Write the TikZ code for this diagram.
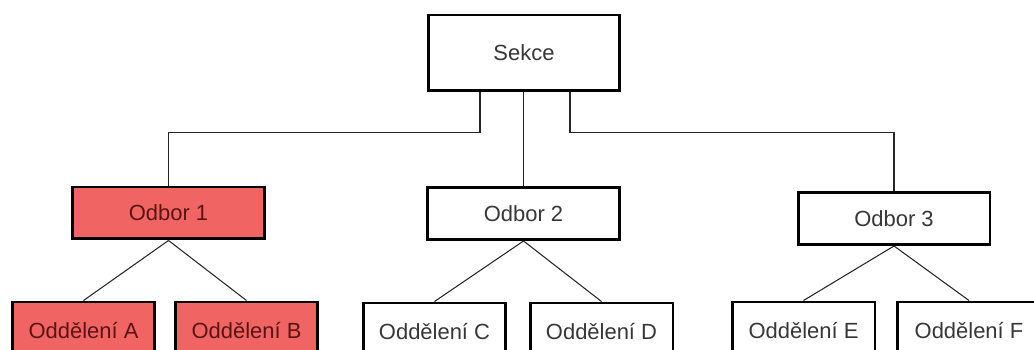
\documentclass[tikz,border=0pt]{standalone}
\usepackage{fontspec}
\setmainfont{Liberation Sans}
\usepackage{tikz}
\usetikzlibrary{positioning,calc}

\definecolor{odborred}{RGB}{240,100,100}
\definecolor{darkred}{RGB}{90,20,20}
\definecolor{txtgray}{RGB}{55,55,55}

\begin{document}
\begin{tikzpicture}[x=0.02cm,y=-0.02cm,
  unit/.style={draw=black, line width=1.7pt, fill=white, text=txtgray,
               minimum width=3.84cm, minimum height=1.04cm, align=center,
               font=\fontsize{12.5}{14}\selectfont},
  redunit/.style={unit, fill=odborred, text=darkred},
  dept/.style={unit, minimum width=2.86cm, minimum height=1.2cm},
  reddept/.style={dept, fill=odborred, text=darkred},
  link/.style={draw=black!85, line width=0.6pt}
]
\useasboundingbox (0,0) rectangle (1034,350);
\clip (0,0) rectangle (1034,350);

% top level
\node[unit, minimum height=1.52cm] (sekce) at (524,53) {Sekce};

% odbory
\node[redunit] (odbor1) at (168.5,213) {Odbor 1};
\node[unit]    (odbor2) at (523.5,213.5) {Odbor 2};
\node[unit]    (odbor3) at (894,218.5) {Odbor 3};

% oddeleni (cut at the bottom edge)
\node[reddept] (oddA) at (83.5,332)  {\raisebox{0.3ex}{Oddělení A}};
\node[reddept] (oddB) at (246.5,332) {\raisebox{0.3ex}{Oddělení B}};
\node[dept]    (oddC) at (434.5,333) {\raisebox{0.3ex}{Oddělení C}};
\node[dept]    (oddD) at (601.5,333) {\raisebox{0.3ex}{Oddělení D}};
\node[dept]    (oddE) at (803.5,332) {\raisebox{0.3ex}{Oddělení E}};
\node[dept]    (oddF) at (969,332)   {\raisebox{0.3ex}{Oddělení F}};

% sekce -> odbory
\draw[link] ([xshift=-0.88cm]sekce.south) -- ++(0,40) -| (odbor1.north);
\draw[link] (sekce.south -| odbor2.north) -- (odbor2.north);
\draw[link] ([xshift=0.92cm]sekce.south) -- ++(0,40) -| (odbor3.north);

% odbory -> oddeleni
\draw[link] (odbor1.south) -- (oddA.north);
\draw[link] (odbor1.south) -- (oddB.north);
\draw[link] (odbor2.south) -- (oddC.north);
\draw[link] (odbor2.south) -- (oddD.north);
\draw[link] (odbor3.south) -- (oddE.north);
\draw[link] (odbor3.south) -- (oddF.north);
\end{tikzpicture}
\end{document}
